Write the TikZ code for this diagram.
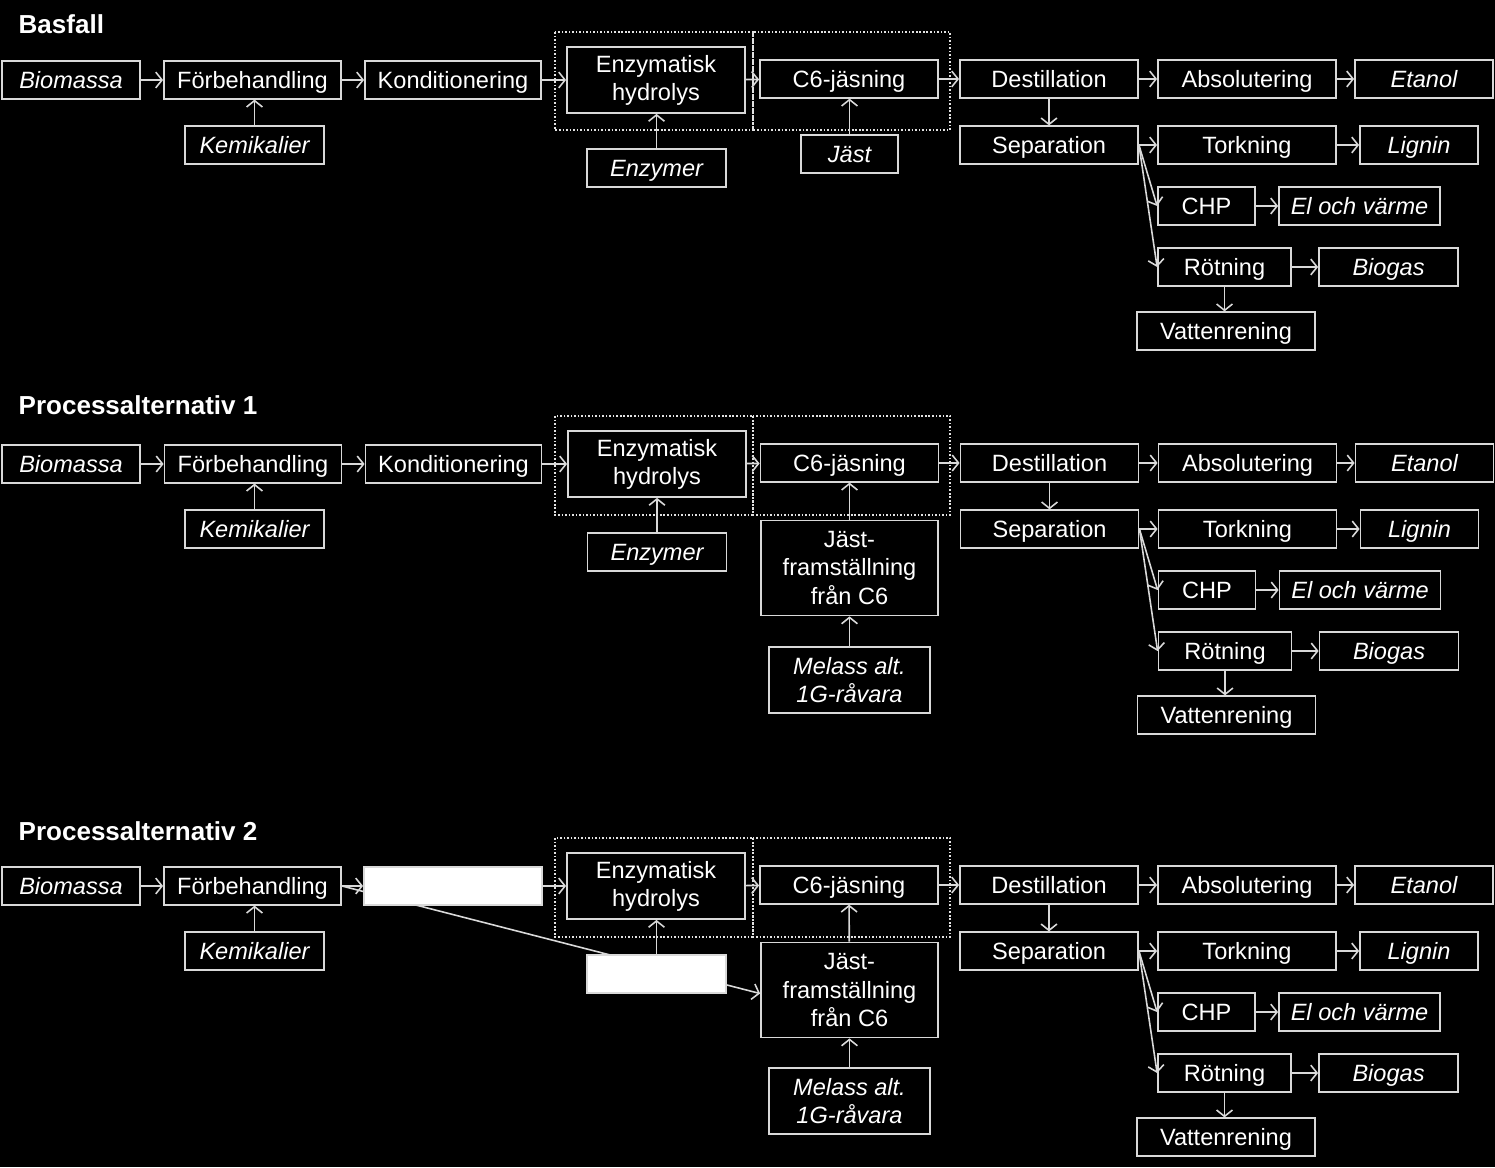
\documentclass[tikz,border=0pt]{standalone}
\usepackage{fontspec}
\setmainfont{Liberation Sans}
\usetikzlibrary{arrows.meta}
\definecolor{frame}{RGB}{217,217,217}
\tikzset{base/.style={draw=frame,line width=.5pt,text=white,inner sep=0pt,align=center,font=\fontsize{6.7}{8}\selectfont},
 box/.style={base,minimum height=.375cm,text height=4.8pt,text depth=0pt},
 matter/.style={box,font=\fontsize{6.7}{8}\selectfont\itshape},
 tallbox/.style={base},
 tallmatter/.style={base,font=\fontsize{6.7}{8}\selectfont\itshape},
 hidden/.style={draw=frame,fill=white,line width=.5pt,inner sep=0pt,minimum height=.375cm},
 flow/.style={draw=frame,line width=.45pt,-{Straight Barb[length=1.8pt,width=4.5pt]}},
 stage/.style={draw=frame!75,dash pattern=on .45pt off .55pt,line width=.45pt},
 heading/.style={anchor=west,text=white,inner sep=0pt,font=\fontsize{7.4}{9}\selectfont\bfseries}}

\begin{document}
\begin{tikzpicture}[x=0.01cm,y=-0.01cm]
\fill[black] (0,0) rectangle (1495,1167);
\useasboundingbox (0,0) rectangle (1495,1167);
% Basfall
\node[heading] (t1) at (18,24) {Basfall};
\draw[stage] (555,32) rectangle (753,130) (753,32) rectangle (950,130);
\node[matter,minimum width=1.38cm] (bio1) at (71,80) {Biomassa};
\node[box,minimum width=1.77cm] (forb1) at (252.5,80) {Förbehandling};
\node[matter,minimum width=1.39cm] (kem1) at (254.5,145) {Kemikalier};
\node[box,minimum width=1.76cm] (kond1) at (453,80) {Konditionering};
\node[tallbox,minimum width=1.78cm,minimum height=.66cm] (enz1) at (656,80) {Enzymatisk\\hydrolys};
\node[matter,minimum width=1.39cm] (enzy1) at (656.5,168) {Enzymer};
\node[box,minimum width=1.78cm] (c61) at (849,79) {C6-jäsning};
\node[matter,minimum width=.97cm] (jast1) at (849.5,154) {Jäst};
\node[box,minimum width=1.78cm] (dest1) at (1049,79) {Destillation};
\node[box,minimum width=1.78cm] (abs1) at (1247,79) {Absolutering};
\node[matter,minimum width=1.38cm] (etan1) at (1424,79) {Etanol};
\node[box,minimum width=1.78cm] (sep1) at (1049,145) {Separation};
\node[box,minimum width=1.78cm] (tork1) at (1247,145) {Torkning};
\node[matter,minimum width=1.18cm] (lign1) at (1419,145) {Lignin};
\node[box,minimum width=.97cm] (chp1) at (1206.5,206) {CHP};
\node[matter,minimum width=1.61cm] (el1) at (1359.5,206) {El och värme};
\node[box,minimum width=1.33cm] (rot1) at (1224.5,267) {Rötning};
\node[matter,minimum width=1.39cm] (biog1) at (1388.5,267) {Biogas};
\node[box,minimum width=1.78cm] (vatt1) at (1226,331) {Vattenrening};
\draw[flow] (bio1) -- (forb1);
\draw[flow] (kem1.north) -- (kem1.north |- forb1.south);
\draw[flow] (forb1) -- (kond1);
\draw[flow] (kond1) -- (enz1);
\draw[flow] (enzy1.north) -- (enzy1.north |- enz1.south);
\draw[flow] (enz1) -- (c61);
\draw[flow] (jast1.north) -- (jast1.north |- c61.south);
\draw[flow] (c61) -- (dest1);
\draw[flow] (dest1) -- (abs1);
\draw[flow] (abs1) -- (etan1);
\draw[flow] (dest1) -- (sep1);
\draw[flow] (sep1) -- (tork1);
\draw[flow] (tork1) -- (lign1);
\draw[flow] (sep1.east) -- (chp1.west);
\draw[flow] (sep1.east) -- (rot1.west);
\draw[flow] (chp1) -- (el1);
\draw[flow] (rot1) -- (biog1);
\draw[flow] (rot1.south) -- (rot1.south |- vatt1.north);
% Processalternativ 1
\node[heading] (t2) at (18,405) {Processalternativ 1};
\draw[stage] (555,416) rectangle (753,515) (753,416) rectangle (950,515);
\node[matter,minimum width=1.38cm] (bio2) at (71,464) {Biomassa};
\node[box,minimum width=1.77cm] (forb2) at (253,464) {Förbehandling};
\node[matter,minimum width=1.39cm] (kem2) at (254.5,529) {Kemikalier};
\node[box,minimum width=1.76cm] (kond2) at (453.5,464) {Konditionering};
\node[tallbox,minimum width=1.78cm,minimum height=.66cm] (enz2) at (657,464) {Enzymatisk\\hydrolys};
\node[matter,minimum width=1.39cm] (enzy2) at (657,552) {Enzymer};
\node[box,minimum width=1.78cm] (c62) at (849.5,463) {C6-jäsning};
\node[tallbox,minimum width=1.77cm,minimum height=.95cm] (jf2) at (849.5,568) {Jäst-\\framställning\\från C6};
\node[tallmatter,minimum width=1.61cm,minimum height=.66cm] (mel2) at (849.5,680) {Melass alt.\\1G-råvara};
\node[box,minimum width=1.78cm] (dest2) at (1049.5,463) {Destillation};
\node[box,minimum width=1.78cm] (abs2) at (1247.5,463) {Absolutering};
\node[matter,minimum width=1.38cm] (etan2) at (1424.5,463) {Etanol};
\node[box,minimum width=1.78cm] (sep2) at (1049.5,529) {Separation};
\node[box,minimum width=1.78cm] (tork2) at (1247.5,529) {Torkning};
\node[matter,minimum width=1.18cm] (lign2) at (1419.5,529) {Lignin};
\node[box,minimum width=.97cm] (chp2) at (1207,590) {CHP};
\node[matter,minimum width=1.61cm] (el2) at (1360,590) {El och värme};
\node[box,minimum width=1.33cm] (rot2) at (1225,651) {Rötning};
\node[matter,minimum width=1.39cm] (biog2) at (1389,651) {Biogas};
\node[box,minimum width=1.78cm] (vatt2) at (1226.5,715) {Vattenrening};
\draw[flow] (bio2) -- (forb2);
\draw[flow] (kem2.north) -- (kem2.north |- forb2.south);
\draw[flow] (forb2) -- (kond2);
\draw[flow] (kond2) -- (enz2);
\draw[flow] (enzy2) -- (enz2);
\draw[flow] (enz2) -- (c62);
\draw[flow] (jf2) -- (c62);
\draw[flow] (mel2) -- (jf2);
\draw[flow] (c62) -- (dest2);
\draw[flow] (dest2) -- (abs2);
\draw[flow] (abs2) -- (etan2);
\draw[flow] (dest2) -- (sep2);
\draw[flow] (sep2) -- (tork2);
\draw[flow] (tork2) -- (lign2);
\draw[flow] (sep2.east) -- (chp2.west);
\draw[flow] (sep2.east) -- (rot2.west);
\draw[flow] (chp2) -- (el2);
\draw[flow] (rot2) -- (biog2);
\draw[flow] (rot2.south) -- (rot2.south |- vatt2.north);
% Processalternativ 2
\node[heading] (t3) at (18,831) {Processalternativ 2};
\draw[stage] (555,838) rectangle (753,937) (753,838) rectangle (950,937);
\node[matter,minimum width=1.38cm] (bio3) at (71,886) {Biomassa};
\node[box,minimum width=1.77cm] (forb3) at (252.5,886) {Förbehandling};
\node[matter,minimum width=1.39cm] (kem3) at (254.5,951) {Kemikalier};
\node[tallbox,minimum width=1.78cm,minimum height=.66cm] (enz3) at (656,886) {Enzymatisk\\hydrolys};
\node[box,minimum width=1.78cm] (c63) at (849,885) {C6-jäsning};
\node[tallbox,minimum width=1.77cm,minimum height=.95cm] (jf3) at (849.5,990) {Jäst-\\framställning\\från C6};
\node[tallmatter,minimum width=1.61cm,minimum height=.66cm] (mel3) at (849.5,1101) {Melass alt.\\1G-råvara};
\node[box,minimum width=1.78cm] (dest3) at (1049,885) {Destillation};
\node[box,minimum width=1.78cm] (abs3) at (1247,885) {Absolutering};
\node[matter,minimum width=1.38cm] (etan3) at (1424,885) {Etanol};
\node[box,minimum width=1.78cm] (sep3) at (1049,951) {Separation};
\node[box,minimum width=1.78cm] (tork3) at (1247,951) {Torkning};
\node[matter,minimum width=1.18cm] (lign3) at (1419,951) {Lignin};
\node[box,minimum width=.97cm] (chp3) at (1206.5,1012) {CHP};
\node[matter,minimum width=1.61cm] (el3) at (1359.5,1012) {El och värme};
\node[box,minimum width=1.33cm] (rot3) at (1224.5,1073) {Rötning};
\node[matter,minimum width=1.39cm] (biog3) at (1388.5,1073) {Biogas};
\node[box,minimum width=1.78cm] (vatt3) at (1226,1137) {Vattenrening};
\draw[flow] (forb3.east) -- ([yshift=-1pt]jf3.west);
\node[hidden,minimum width=1.78cm] (kond3) at (453,886) {};
\node[hidden,minimum width=1.39cm] (enzy3) at (656.5,974) {};
\draw[flow] (bio3) -- (forb3);
\draw[flow] (kem3.north) -- (kem3.north |- forb3.south);
\draw[flow] (forb3) -- (kond3);
\draw[flow] (kond3) -- (enz3);
\draw[flow] (enzy3.north) -- (enzy3.north |- enz3.south);
\draw[flow] (enz3) -- (c63);
\draw[flow] (jf3) -- (c63);
\draw[flow] (mel3) -- (jf3);
\draw[flow] (c63) -- (dest3);
\draw[flow] (dest3) -- (abs3);
\draw[flow] (abs3) -- (etan3);
\draw[flow] (dest3) -- (sep3);
\draw[flow] (sep3) -- (tork3);
\draw[flow] (tork3) -- (lign3);
\draw[flow] (sep3.east) -- (chp3.west);
\draw[flow] (sep3.east) -- (rot3.west);
\draw[flow] (chp3) -- (el3);
\draw[flow] (rot3) -- (biog3);
\draw[flow] (rot3.south) -- (rot3.south |- vatt3.north);
\end{tikzpicture}
\end{document}
